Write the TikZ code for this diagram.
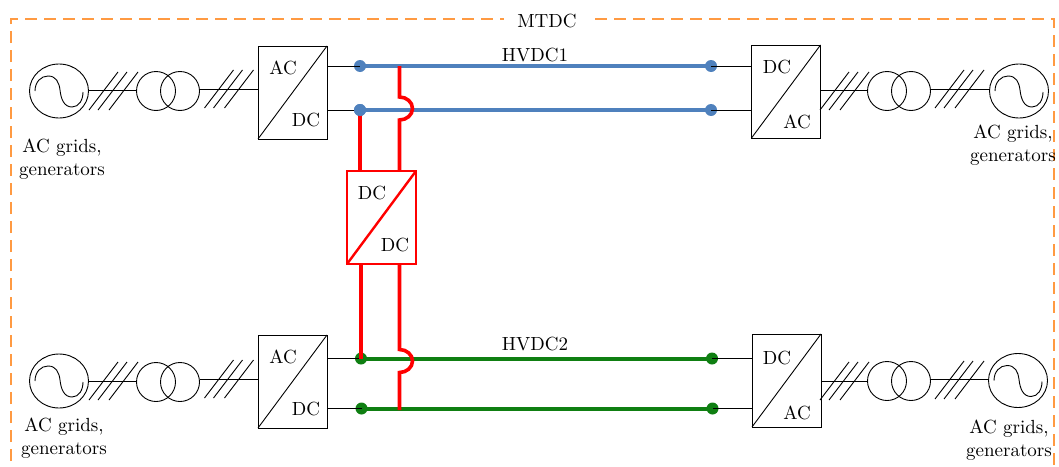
\documentclass[tikz,border=0pt]{standalone}
\usetikzlibrary{shapes.geometric}
\definecolor{busblue}{HTML}{4F81BD}
\definecolor{busgreen}{HTML}{0F7F12}
\definecolor{frameorange}{HTML}{FF9A42}
\newcommand{\sinewave}[1]{%
  \begin{scope}[shift={(#1.center)}]
  \draw[thin1] (-24,0) .. controls (-24,-9) and (-18,-15) .. (-11,-15)
     .. controls (-3,-15) and (0,-9) .. (1,-1)
     .. controls (2,8) and (5,16) .. (13,16)
     .. controls (20,16) and (24,9) .. (24,1);
  \end{scope}%
}
\newcommand{\slashes}[1]{%
  \begin{scope}[shift={(#1)}]
  \draw[thin1] (0,19) -- (29,-19);
  \draw[thin1] (9,19) -- (38,-19);
  \draw[thin1] (20,19) -- (49,-19);
  \end{scope}%
}
\tikzset{
  thin1/.style={line width=0.45pt,black},
  source/.style={ellipse,draw,thin1,minimum width=29.5pt,minimum height=27pt,inner sep=0pt,outer sep=0pt},
  xformer/.style={circle,draw,thin1,minimum size=19.5pt,inner sep=0pt,outer sep=0pt},
  conv/.style={rectangle,draw,thin1,minimum width=34.5pt,minimum height=46.5pt,inner sep=0pt,outer sep=0pt},
  redconv/.style={rectangle,draw=red,line width=1.2pt,minimum width=34.5pt,minimum height=46.5pt,inner sep=0pt,outer sep=0pt},
  lab/.style={inner sep=0pt,font=\fontsize{9.5}{11.5}\selectfont,align=center,text=black},
  dotb/.style={circle,fill=busblue,minimum size=6pt,inner sep=0pt},
  dotg/.style={circle,fill=busgreen,minimum size=6pt,inner sep=0pt},
  blueline/.style={line width=2pt,busblue},
  greenline/.style={line width=2pt,busgreen},
  redline/.style={line width=1.8pt,red},
  frame/.style={line width=1.4pt,frameorange,dash pattern=on 6pt off 3.5pt}
}
\begin{document}
\begin{tikzpicture}[x=0.5pt,y=-0.5pt]
\path[use as bounding box,clip] (0,0) rectangle (1059,466);
% frame
\coordinate (bl) at (11,480);
\coordinate (tr) at (1054,19);
\draw[frame] (bl) rectangle (tr);
\node[lab,fill=white,inner xsep=6.5pt,inner ysep=2pt] (mtdc) at (547,21) {MTDC};

% converters
\node[conv] (c1) at (292.5,92.5) {};
\node[conv] (c2) at (292.5,381.5) {};
\node[conv] (c3) at (786,91.5) {};
\node[conv] (c4) at (786.5,380.5) {};
\node[redconv] (c5) at (381.5,217.5) {};
\draw[thin1] (c1.south west) -- (c1.north east);
\draw[thin1] (c2.south west) -- (c2.north east);
\draw[thin1] (c3.south west) -- (c3.north east);
\draw[thin1] (c4.south west) -- (c4.north east);
\draw[line width=1.2pt,red] (c5.south west) -- (c5.north east);
\node[lab] (c1a) at (283,68) {AC};
\node[lab] (c1b) at (306,120) {DC};
\node[lab] (c2a) at (283,357) {AC};
\node[lab] (c2b) at (306,409) {DC};
\node[lab] (c3a) at (777,67) {DC};
\node[lab] (c3b) at (797,122) {AC};
\node[lab] (c4a) at (777,358) {DC};
\node[lab] (c4b) at (797,413) {AC};
\node[lab] (c5a) at (372,193) {DC};
\node[lab] (c5b) at (395,245) {DC};

% sources, transformers
\node[source] (s1) at (59,91) {};
\node[source] (s2) at (59,381) {};
\node[source] (s3) at (1019,91) {};
\node[source] (s4) at (1018,380.5) {};
\sinewave{s1}\sinewave{s2}\sinewave{s3}\sinewave{s4}
\node[xformer] (t1a) at (156,91) {};
\node[xformer] (t1b) at (180,91) {};
\node[xformer] (t2a) at (156,382) {};
\node[xformer] (t2b) at (180,382) {};
\node[xformer] (t3a) at (887,91) {};
\node[xformer] (t3b) at (911,91) {};
\node[xformer] (t4a) at (887,381) {};
\node[xformer] (t4b) at (911,381) {};
\coordinate (j1) at (0,90);
\coordinate (j2) at (0,89.5);
\coordinate (j3) at (0,381);
\coordinate (j4) at (0,379.5);
\draw[thin1] (s1.east |- j1) -- (t1a.west |- j1);
\draw[thin1] (t1b.east |- j2) -- (c1.west |- j2);
\draw[thin1] (s2.east |- j3) -- (t2a.west |- j3);
\draw[thin1] (t2b.east |- j4) -- (c2.west |- j4);
\draw[thin1] (c3.east |- j1) -- (t3a.west |- j1);
\draw[thin1] (t3b.east |- j2) -- (s3.west |- j2);
\draw[thin1] (c4.east |- j3) -- (t4a.west |- j3);
\draw[thin1] (t4b.east |- j4) -- (s4.west |- j4);
\coordinate (k1) at (89,91); \slashes{k1}
\coordinate (k2) at (204.5,89); \slashes{k2}
\coordinate (k3) at (89,381); \slashes{k3}
\coordinate (k4) at (204.5,379); \slashes{k4}
\coordinate (k5) at (820,91); \slashes{k5}
\coordinate (k6) at (935,89); \slashes{k6}
\coordinate (k7) at (820,381); \slashes{k7}
\coordinate (k8) at (935,380); \slashes{k8}

\node[lab] (g1) at (62,159.5) {AC grids,\\generators};
\node[lab] (g2) at (64,438) {AC grids,\\generators};
\node[lab] (g3) at (1013,145) {AC grids,\\generators};
\node[lab] (g4) at (1009,440) {AC grids,\\generators};

% buses
\node[dotb] (b1l) at (360,66) {};
\node[dotb] (b2l) at (360,110) {};
\node[dotb] (b1r) at (711,66) {};
\node[dotb] (b2r) at (711,110) {};
\node[dotg] (g1l) at (361,358.5) {};
\node[dotg] (g2l) at (361.5,408.5) {};
\node[dotg] (g1r) at (712,358.5) {};
\node[dotg] (g2r) at (712.5,408.5) {};
\draw[thin1] (b1l.center) -- (b1l.center -| c1.east);
\draw[thin1] (b2l.center) -- (b2l.center -| c1.east);
\draw[thin1] (b1r.center) -- (b1r.center -| c3.west);
\draw[thin1] (b2r.center) -- (b2r.center -| c3.west);
\draw[thin1] (g1l.center) -- (g1l.center -| c2.east);
\draw[thin1] (g2l.center) -- (g2l.center -| c2.east);
\draw[thin1] (g1r.center) -- (g1r.center -| c4.west);
\draw[thin1] (g2r.center) -- (g2r.center -| c4.west);
\draw[blueline] (b1l.center) -- (b1r.center);
\draw[blueline] (b2l.center) -- (b2r.center);
\draw[greenline] (g1l.center) -- (g1r.center);
\draw[greenline] (g2l.center) -- (g2r.center);
\node[lab] (h1) at (535,55) {HVDC1};
\node[lab] (h2) at (535,344) {HVDC2};

% red DC link
\coordinate (r1) at (399.5,66);
\coordinate (r1h) at (399.5,97);
\coordinate (r1t) at (399.5,171);
\coordinate (r2h) at (399.5,349.5);
\coordinate (r2b) at (399.5,410);
\coordinate (r2t) at (399.5,264);
\draw[redline] (b2l.center) -- (b2l.center |- c5.north);
\draw[redline] (g1l.center) -- (g1l.center |- c5.south);
\draw[redline] (r1) -- (r1h) arc[start angle=90,end angle=-90,x radius=6.5pt,y radius=5.75pt] -- (r1t);
\draw[redline] (r2t) -- (r2h) arc[start angle=90,end angle=-90,x radius=6.5pt,y radius=5.75pt] -- (r2b);
\node[dotb] (b2ltop) at (b2l.center) {};
\end{tikzpicture}
\end{document}
